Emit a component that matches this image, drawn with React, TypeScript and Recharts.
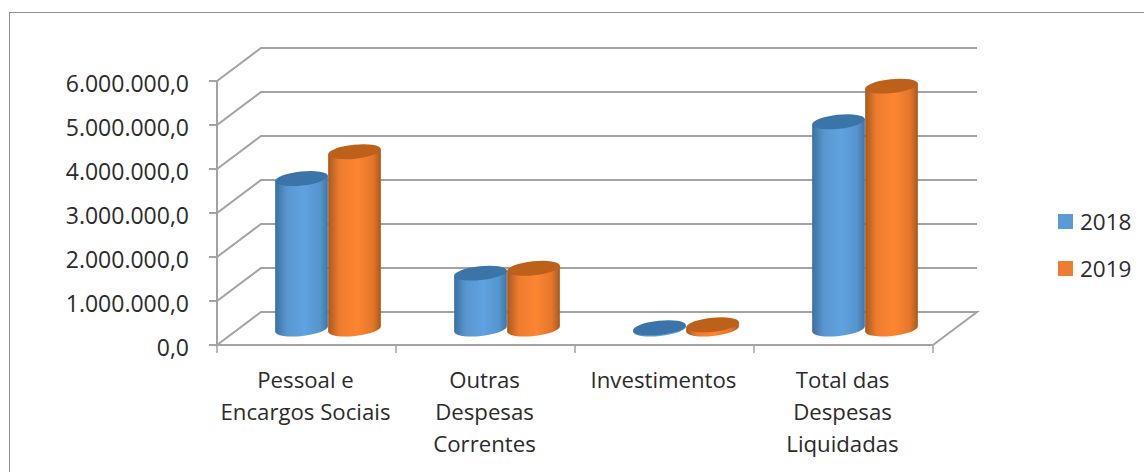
import React from 'react';
import { BarChart, Bar, XAxis, YAxis, CartesianGrid, Legend } from 'recharts';

const categories = ['Pessoal e\nEncargos Sociais', 'Outras\nDespesas\nCorrentes', 'Investimentos', 'Total das\nDespesas\nLiquidadas'];
const values2018 = [3420000, 1270000, 30000, 4710000];
const values2019 = [4030000, 1380000, 95000, 5520000];
const yTicks = [0, 1000000, 2000000, 3000000, 4000000, 5000000, 6000000];

const chartData = categories.map((name, i) => ({ name, y2018: values2018[i], y2019: values2019[i] }));

const FONT = '"Open Sans", "Noto Sans", sans-serif';
const AXIS_COLOR = '#a3a3a3';
const TEXT_COLOR = '#2b2b2b';

// depth of the fake 3D floor, and where the cylinders stand inside it
const DEPTH_X = 44;
const DEPTH_Y = 33;
const BAR_DX = 21;
const BAR_DY = 16;
const TILT = -6;
const TICK_LEN = 8;
const LABEL_GAP = 43;

const formatTick = (v: number) => {
  const s = String(Math.round(v)).replace(/\B(?=(\d{3})+(?!\d))/g, '.');
  return s + ',0';
};

const Cylinder = (props: any) => {
  const { x, y, width, height, gradient, top } = props;
  const rx = width / 2;
  const ry = 7;
  const cx = x + rx + BAR_DX;
  const yTop = y - BAR_DY;
  const yBottom = y + height - BAR_DY;
  const rad = (TILT * Math.PI) / 180;
  const ox = rx * Math.cos(rad);
  const oy = rx * Math.sin(rad);
  const body = `M${cx - ox},${yTop + oy * -1} L${cx - ox},${yBottom - oy} A${rx},${ry} ${TILT} 0 0 ${cx + ox},${yBottom + oy} L${cx + ox},${yTop + oy} Z`;
  return (
    <g>
      <path d={body} fill={`url(#${gradient})`} />
      <ellipse cx={cx} cy={yTop} rx={rx} ry={ry} fill={top} transform={`rotate(${TILT} ${cx} ${yTop})`} />
    </g>
  );
};

const gridLine = (props: any) => {
  const { x1, x2, y1, key } = props;
  const isFloor = y1 > 340;
  const pts = `${x1},${y1} ${x1 + DEPTH_X},${y1 - DEPTH_Y} ${x2 + DEPTH_X},${y1 - DEPTH_Y}${isFloor ? ` ${x2},${y1}` : ''}`;
  return <polyline key={key} points={pts} fill="none" stroke={AXIS_COLOR} strokeWidth={2} />;
};

// tick marks sit on the category boundaries, so they are drawn here with the label
const CategoryTick = (props: any) => {
  const { x, y, payload, width, visibleTicksCount } = props;
  const lines = String(payload.value).split('\n');
  const half = width / visibleTicksCount / 2;
  return (
    <g>
      {payload.index === 0 && <line x1={x - half} x2={x - half} y1={y} y2={y + TICK_LEN} stroke={AXIS_COLOR} strokeWidth={1.5} />}
      <line x1={x + half} x2={x + half} y1={y} y2={y + TICK_LEN} stroke={AXIS_COLOR} strokeWidth={1.5} />
      <text x={x - 1} y={y + LABEL_GAP} textAnchor="middle" fontFamily={FONT} fontSize={22.2} fill={TEXT_COLOR}>
        {lines.map((line, i) => (
          <tspan key={i} x={x - 1} dy={i === 0 ? 0 : 32}>{line}</tspan>
        ))}
      </text>
    </g>
  );
};

const renderLegend = (props: any) => (
  <div style={{ fontFamily: FONT, fontSize: 22.5, color: TEXT_COLOR }}>
    {props.payload.map((item: any) => (
      <div key={item.value} style={{ display: 'flex', alignItems: 'center', height: 47 }}>
        <span style={{ width: 15, height: 15, background: item.color, marginRight: 7 }} />
        {item.value}
      </div>
    ))}
  </div>
);

export default function App() {
  return (
    <div style={{ position: 'absolute', left: 0, top: 0, width: 1144, height: 472, background: '#fff', overflow: 'hidden' }}>
      <div style={{ position: 'absolute', left: 9, top: 12, width: 1135, height: 460, borderLeft: '1.5px solid #8f8f8f', borderTop: '1.5px solid #8f8f8f' }} />
      <BarChart
        width={1144}
        height={472}
        data={chartData}
        margin={{ top: 81, right: 211, bottom: 0, left: 0 }}
        barCategoryGap={37}
        barGap={0}
        style={{ position: 'absolute', left: 0, top: 0 }}
      >
        <defs>
          <linearGradient id="blueBody" x1="0" y1="0" x2="1" y2="0">
            <stop offset="0%" stopColor="#3c70a0" />
            <stop offset="22%" stopColor="#5996cf" />
            <stop offset="55%" stopColor="#5fa2e0" />
            <stop offset="85%" stopColor="#5695cd" />
            <stop offset="100%" stopColor="#3f76a8" />
          </linearGradient>
          <linearGradient id="orangeBody" x1="0" y1="0" x2="1" y2="0">
            <stop offset="0%" stopColor="#a85a1e" />
            <stop offset="22%" stopColor="#ee7c2e" />
            <stop offset="55%" stopColor="#fd8532" />
            <stop offset="85%" stopColor="#e4772b" />
            <stop offset="100%" stopColor="#a9591d" />
          </linearGradient>
        </defs>
        <CartesianGrid horizontal={gridLine} vertical={false} />
        <XAxis
          dataKey="name"
          interval={0}
          height={127}
          stroke={AXIS_COLOR}
          strokeWidth={2}
          tickLine={false}
          tick={<CategoryTick />}
          tickMargin={0}
          tickSize={0}
        />
        <YAxis
          width={217}
          domain={[0, 6000000]}
          ticks={yTicks}
          interval={0}
          tickFormatter={formatTick}
          stroke={AXIS_COLOR}
          strokeWidth={2}
          tickSize={TICK_LEN}
          tickMargin={20}
          tick={{ fontFamily: FONT, fontSize: 23, fill: TEXT_COLOR, dy: 3 }}
        />
        <Legend
          layout="vertical"
          align="center"
          verticalAlign="middle"
          content={renderLegend}
          wrapperStyle={{ left: 1058, top: 198, width: 84 }}
        />
        <Bar dataKey="y2018" name="2018" fill="#5b9bd5" isAnimationActive={false} shape={<Cylinder gradient="blueBody" top="#3a74a8" />} />
        <Bar dataKey="y2019" name="2019" fill="#ed7d31" isAnimationActive={false} shape={<Cylinder gradient="orangeBody" top="#bd6019" />} />
      </BarChart>
    </div>
  );
}
